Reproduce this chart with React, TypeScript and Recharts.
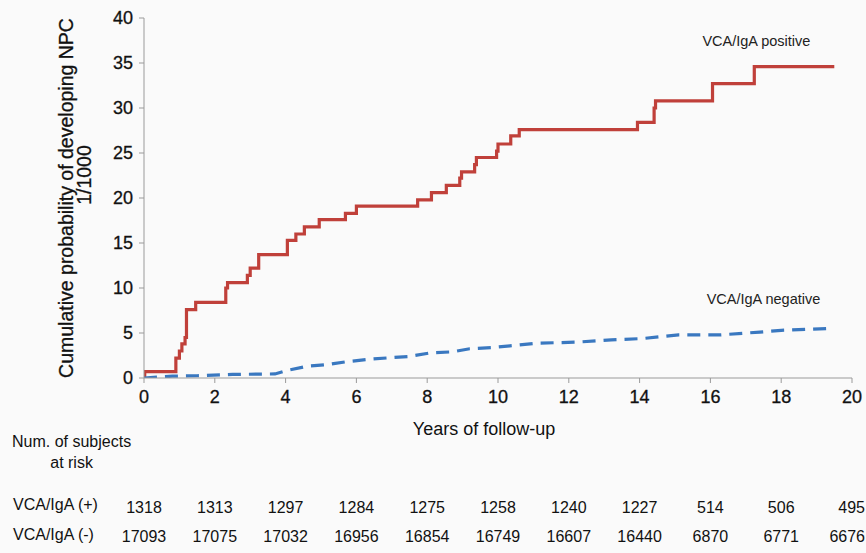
import React from 'react';
import { LineChart, Line, XAxis, YAxis, Label, ReferenceDot } from 'recharts';

const xTicks = [0, 2, 4, 6, 8, 10, 12, 14, 16, 18, 20];
const yTicks = [0, 5, 10, 15, 20, 25, 30, 35, 40];

const riskPlus = [1318, 1313, 1297, 1284, 1275, 1258, 1240, 1227, 514, 506, 495];
const riskMinus = [17093, 17075, 17032, 16956, 16854, 16749, 16607, 16440, 6870, 6771, 6676];

const posYears = [0, 0.02, 0.9, 1.0, 1.07, 1.16, 1.2, 1.46, 2.31, 2.36, 2.92, 3.0, 3.24, 4.05, 4.29, 4.53, 4.95, 5.69, 6.0, 7.73, 8.12, 8.54, 8.92, 8.97, 9.34, 9.39, 9.96, 10.0, 10.36, 10.6, 13.94, 14.41, 14.45, 16.06, 17.24, 19.5];
const posProb = [0, 0.7, 2.2, 3.0, 3.8, 4.5, 7.6, 8.4, 10.0, 10.6, 11.4, 12.2, 13.7, 15.3, 16.0, 16.8, 17.6, 18.3, 19.1, 19.8, 20.6, 21.4, 22.2, 22.9, 23.7, 24.5, 25.2, 26.0, 26.9, 27.6, 28.4, 30.0, 30.8, 32.7, 34.6, 34.6];

const negYears = [0, 0.8, 1.5, 2.5, 3.7, 4.0, 4.6, 5.2, 5.7, 6.4, 7.5, 8.1, 8.7, 9.2, 9.9, 10.4, 11.1, 12.2, 13.2, 14.1, 15.1, 16.3, 17.4, 18.0, 19.3];
const negProb = [0, 0.2, 0.25, 0.4, 0.45, 0.8, 1.3, 1.5, 1.8, 2.1, 2.4, 2.8, 2.9, 3.25, 3.4, 3.6, 3.87, 3.98, 4.24, 4.39, 4.8, 4.8, 5.1, 5.3, 5.5];

const posData = posYears.map((t, i) => ({ t, v: posProb[i] }));
const negData = negYears.map((t, i) => ({ t, v: negProb[i] }));
const riskData = xTicks.map((t, i) => ({ t, plus: riskPlus[i], minus: riskMinus[i] }));

const FONT = '"Liberation Sans", Arial, sans-serif';

const YTitle = (props: any) => {
  const vb = props.viewBox || {};
  const cy = (vb.y || 0) + (vb.height || 0) / 2;
  const x1 = 66;
  const x2 = 84;
  const c2 = cy - 23;
  return (
    <g>
      <text x={x1} y={cy} transform={`rotate(-90, ${x1}, ${cy})`} textAnchor="middle" dominantBaseline="central" fontSize={19.5} fill="#111" stroke="#111" strokeWidth={0.3} fontFamily={FONT}>
        Cumulative probability of developing NPC
      </text>
      <text x={x2} y={c2} transform={`rotate(-90, ${x2}, ${c2})`} textAnchor="middle" dominantBaseline="central" fontSize={19.5} fill="#111" stroke="#111" strokeWidth={0.3} fontFamily={FONT}>
        1/1000
      </text>
    </g>
  );
};

const AnnText = (text: string) => (props: any) => {
  const vb = props.viewBox || {};
  const x = (vb.x || 0) + (vb.width || 0) / 2;
  const y = (vb.y || 0) + (vb.height || 0) / 2;
  return (
    <text x={x} y={y} textAnchor="middle" dominantBaseline="central" fontSize={14.5} fill="#222" fontFamily={FONT}>
      {text}
    </text>
  );
};

const tickStyle = { fill: '#111', stroke: '#111', strokeWidth: 0.3, fontSize: 18, fontFamily: FONT };

const makeTableTick = (values: number[]) => (props: any) => {
  const { x, y, payload } = props;
  const idx = xTicks.indexOf(payload.value);
  const label = idx >= 0 ? String(values[idx]) : '';
  const half = (label.length * 8.9) / 2;
  const cx = Math.min(x, 865 - half);
  return (
    <text x={cx} y={y} textAnchor="middle" dominantBaseline="central" fontSize={16} fill="#111" fontFamily={FONT}>
      {label}
    </text>
  );
};

export default function App() {
  return (
    <div style={{ position: 'absolute', left: 0, top: 0, width: 866, height: 553, background: '#fafafa', fontFamily: FONT }}>
      <LineChart width={866} height={553} margin={{ top: 18, right: 14, bottom: 0, left: 0 }}>
        <XAxis
          xAxisId="a"
          dataKey="t"
          type="number"
          domain={[0, 20]}
          ticks={xTicks}
          allowDataOverflow
          height={62}
          stroke="#9a9a9a"
          tickSize={5}
          tickMargin={7}
          tick={tickStyle}
        >
          <Label value="Years of follow-up" position="insideBottom" offset={5} dx={-14} fill="#111" fontSize={18} fontFamily={FONT} />
        </XAxis>
        <XAxis
          xAxisId="b"
          dataKey="t"
          type="number"
          domain={[0, 20]}
          ticks={xTicks}
          allowDataOverflow
          height={74}
          axisLine={false}
          tickLine={false}
          tickSize={0}
          tickMargin={67}
          tick={makeTableTick(riskPlus)}
        />
        <XAxis
          xAxisId="c"
          dataKey="t"
          type="number"
          domain={[0, 20]}
          ticks={xTicks}
          allowDataOverflow
          height={39}
          axisLine={false}
          tickLine={false}
          tickSize={0}
          tickMargin={22}
          tick={makeTableTick(riskMinus)}
        />
        <YAxis
          type="number"
          domain={[0, 40]}
          ticks={yTicks}
          allowDataOverflow
          width={144}
          stroke="#9a9a9a"
          tickSize={5}
          tickMargin={6}
          tick={tickStyle}
        >
          <Label content={YTitle} />
        </YAxis>
        <Line xAxisId="b" data={riskData} dataKey={() => 0} stroke="transparent" dot={false} activeDot={false} isAnimationActive={false} />
        <Line xAxisId="c" data={riskData} dataKey={() => 0} stroke="transparent" dot={false} activeDot={false} isAnimationActive={false} />
        <Line
          xAxisId="a"
          data={posData}
          dataKey="v"
          type="stepAfter"
          stroke="#c0403a"
          strokeWidth={3.2}
          dot={false}
          isAnimationActive={false}
        />
        <Line
          xAxisId="a"
          data={negData}
          dataKey="v"
          type="linear"
          stroke="#3a78c0"
          strokeWidth={3.2}
          strokeDasharray="13 8"
          dot={false}
          isAnimationActive={false}
        />
        <ReferenceDot xAxisId="a" x={17.3} y={37.5} r={0} fill="none" stroke="none" label={AnnText('VCA/IgA positive')} />
        <ReferenceDot xAxisId="a" x={17.5} y={8.8} r={0} fill="none" stroke="none" label={AnnText('VCA/IgA negative')} />
      </LineChart>
      <div style={{ position: 'absolute', left: 12, top: 431, fontSize: 16, color: '#111', lineHeight: '21px', textAlign: 'center' }}>
        Num. of subjects<br />at risk
      </div>
      <div style={{ position: 'absolute', left: 13, top: 496, fontSize: 16, color: '#111' }}>VCA/IgA (+)</div>
      <div style={{ position: 'absolute', left: 13, top: 526, fontSize: 16, color: '#111' }}>VCA/IgA (-)</div>
    </div>
  );
}
